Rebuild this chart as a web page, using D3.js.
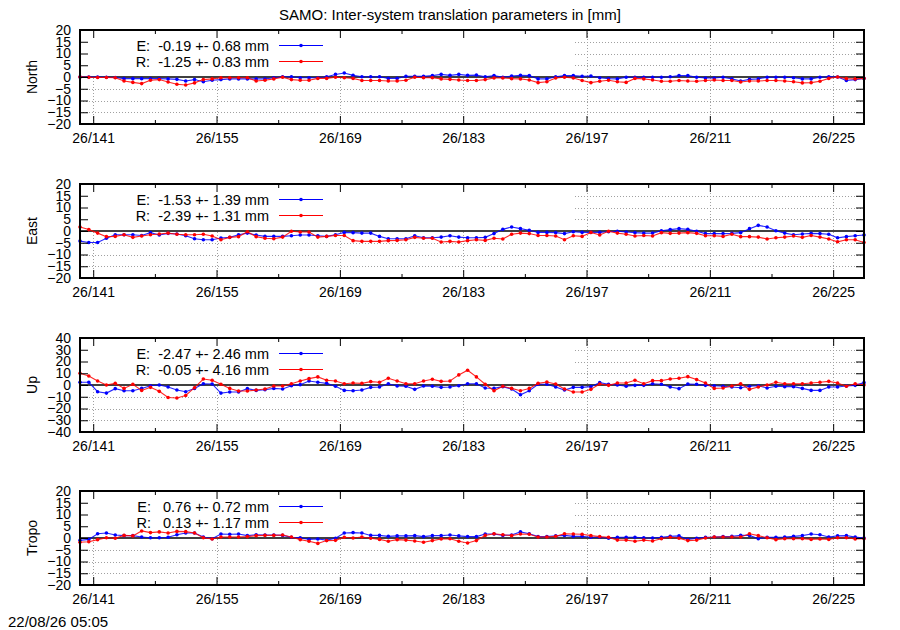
<!DOCTYPE html>
<html><head><meta charset="utf-8">
<script src="https://cdn.jsdelivr.net/npm/d3@7"></script>
<style>
html,body{margin:0;padding:0;background:#fff;}
svg{display:block;font-family:"Liberation Sans",Arial,Helvetica,sans-serif;}
</style>
</head><body>
<svg id="c" width="900" height="630"></svg>
<script>
const title = "SAMO: Inter-system translation parameters in [mm]";
const timestamp = "22/08/26 05:05";
const panelNames = ["North", "East", "Up", "Tropo"];
const yLimits = [20, 20, 40, 20];
const yTickSteps = [5, 5, 10, 5];
const xMajorDays = [141, 155, 169, 183, 197, 211, 225];
const xTickLabels = ["26/141", "26/155", "26/169", "26/183", "26/197", "26/211", "26/225"];
const xMinorDays = [148, 162, 176, 190, 204, 218];
const legendE = ["E:  -0.19 +- 0.68 mm", "E:  -1.53 +- 1.39 mm", "E:  -2.47 +- 2.46 mm", "E:   0.76 +- 0.72 mm"];
const legendR = ["R:  -1.25 +- 0.83 mm", "R:  -2.39 +- 1.31 mm", "R:  -0.05 +- 4.16 mm", "R:   0.13 +- 1.17 mm"];

const epochs = [139.5,140.5,141.5,142.5,143.5,144.5,145.5,146.5,147.5,148.5,
 149.5,150.5,151.5,152.5,153.5,154.5,155.5,156.5,157.5,158.5,
 159.5,160.5,161.5,162.5,163.5,164.5,165.5,166.5,167.5,168.5,
 169.5,170.5,171.5,172.5,173.5,174.5,175.5,176.5,177.5,178.5,
 179.5,180.5,181.5,182.5,183.5,184.5,185.5,186.5,187.5,188.5,
 189.5,190.5,191.5,192.5,193.5,194.5,195.5,196.5,197.5,198.5,
 199.5,200.5,201.5,202.5,203.5,204.5,205.5,206.5,207.5,208.5,
 209.5,210.5,211.5,212.5,213.5,214.5,215.5,216.5,217.5,218.5,
 219.5,220.5,221.5,222.5,223.5,224.5,225.5,226.5,227.5,228.5];

const northE = [0.0, 0.0, 0.0, -0.1, -0.2, -0.7, -0.7, -0.7, -0.7, -0.7,
 -0.8, -1.0, -1.7, -1.1, -2.0, -1.4, -1.1, -0.8, -0.8, -0.8,
 -0.8, -0.8, -0.3, 0.1, 0.1, -0.3, -0.3, -0.3, 0.1, 1.1,
 1.7, 0.7, 0.1, 0.1, 0.1, -0.6, -0.6, 0.3, 0.3, 0.3,
 0.6, 1.1, 0.7, 1.1, 0.7, 0.8, 0.1, 0.6, -0.1, 0.4,
 0.7, 0.6, -0.8, -0.8, 0.1, 0.6, 0.6, 0.3, 0.4, -0.3,
 -0.7, -0.8, -0.1, -0.1, -0.1, -0.1, -0.1, 0.1, 0.6, 0.6,
 -0.1, -0.4, -0.4, -0.1, -0.8, -1.7, -1.0, -0.8, -0.1, -0.1,
 -0.1, -0.3, -0.8, -0.8, -0.1, 0.1, 0.0, -1.5, -1.1, -0.6];
const northR = [0.0, -0.1, -0.2, -0.2, -0.3, -1.7, -2.3, -2.8, -1.4, -1.1,
 -2.1, -3.1, -3.4, -2.5, -1.1, -0.8, -0.3, -0.3, -0.3, -0.3,
 -1.7, -1.4, -0.8, -0.1, -1.1, -1.4, -1.4, -0.6, -0.6, -0.1,
 -0.3, -0.6, -1.5, -1.5, -1.5, -1.7, -1.7, -1.4, -0.1, -0.3,
 -0.3, -0.8, -1.0, -1.3, -1.5, -1.5, -1.1, -0.4, -0.4, -0.7,
 -0.8, -1.3, -2.4, -2.0, -0.4, -0.1, -0.4, -1.5, -2.4, -1.8,
 -1.4, -2.0, -2.3, -0.6, -0.8, -1.3, -1.8, -1.8, -1.5, -1.7,
 -1.8, -1.5, -1.3, -1.5, -1.5, -2.1, -1.7, -1.7, -1.5, -1.5,
 -1.7, -2.0, -2.5, -2.4, -1.8, -0.6, 0.0, -0.7, -0.8, -0.6];
const eastE = [-4.3, -4.9, -4.9, -3.1, -1.6, -1.6, -1.6, -1.9, -0.7, -1.7,
 -1.0, -1.3, -2.0, -3.3, -3.7, -3.7, -3.0, -2.7, -1.6, -0.9,
 -1.7, -2.3, -2.3, -2.3, -2.0, -1.7, -1.7, -2.0, -2.3, -1.6,
 -0.6, -0.7, -0.9, -0.9, -2.3, -3.3, -3.3, -3.3, -2.0, -2.9,
 -2.9, -2.6, -2.0, -2.6, -2.9, -2.9, -2.7, -1.1, 0.7, 1.7,
 1.0, 0.3, -0.6, -0.6, -0.7, -1.1, -0.3, -0.6, -0.6, -0.6,
 -0.3, -0.1, -0.4, -0.7, -0.9, -0.9, 0.1, 0.6, 1.0, 0.7,
 -0.1, -1.1, -1.1, -1.1, -1.0, -0.7, 1.0, 2.4, 1.7, 0.1,
 -0.9, -1.6, -1.3, -1.0, -1.1, -1.4, -2.9, -2.4, -2.0, -1.7];
const eastR = [1.7, 0.6, -0.9, -2.4, -2.3, -1.6, -2.7, -2.1, -1.6, -1.3,
 -0.9, -1.4, -1.6, -1.6, -1.4, -2.1, -3.7, -2.7, -2.4, -0.3,
 -2.4, -3.1, -3.3, -2.6, -0.1, -0.4, -0.4, -2.6, -2.3, -1.9,
 -1.9, -4.1, -4.4, -4.4, -4.4, -4.1, -4.0, -3.7, -2.7, -3.1,
 -3.1, -4.7, -4.4, -4.7, -4.1, -3.7, -4.0, -3.1, -3.4, -1.4,
 -0.9, -1.1, -1.9, -1.9, -2.1, -3.7, -2.0, -2.3, -0.6, -1.7,
 -0.1, -0.9, -1.4, -2.1, -1.9, -2.1, -0.7, -1.0, -0.9, -0.7,
 -1.0, -2.0, -2.0, -2.3, -1.4, -2.4, -2.4, -2.6, -3.4, -2.9,
 -2.6, -2.1, -2.7, -1.9, -2.6, -3.4, -4.6, -3.7, -3.7, -4.9];
const upE = [2.3, 2.3, -5.7, -6.9, -3.1, -4.9, -4.9, -2.9, -0.6, 0.0,
 -1.7, -4.3, -5.7, -2.9, 1.1, 0.9, -6.9, -6.0, -6.0, -3.1,
 -4.6, -4.0, -2.9, -3.4, -0.6, 0.3, 3.4, 2.3, 1.4, -1.1,
 -4.6, -4.9, -4.3, -2.0, -1.7, 1.1, -0.9, -1.1, -3.7, -0.9,
 -1.1, -2.0, -1.7, -0.6, 1.1, 1.1, -2.6, -2.9, -1.4, -3.4,
 -8.3, -4.9, 0.6, 0.6, -1.7, -4.3, -2.0, -2.0, -1.4, 2.0,
 0.6, 0.0, -1.1, -0.3, -0.3, 1.1, 0.6, -1.7, -3.1, 0.9,
 0.6, -0.3, -0.6, -1.1, -1.7, -2.3, -1.1, -0.6, -2.6, -1.1,
 -1.4, -1.4, -2.9, -4.6, -4.6, -1.7, -1.7, -0.9, -0.3, 2.0];
const upR = [10.0, 7.7, 3.4, 0.0, 1.4, -2.9, 0.6, -4.6, -2.0, -5.4,
 -10.6, -11.1, -8.9, -2.3, 5.1, 4.0, 0.6, -2.9, -5.1, -5.1,
 -4.3, -3.4, -0.9, -0.9, 1.1, 3.4, 5.4, 6.9, 4.0, 3.4,
 1.1, 1.7, 1.4, 2.9, 2.3, 5.7, 3.4, 1.1, 1.1, 3.4,
 4.9, 3.1, 3.4, 8.6, 12.6, 6.9, 0.6, -4.9, -1.1, -2.9,
 -4.9, -2.9, 1.4, 2.6, 0.9, -3.4, -6.0, -6.0, -3.7, 0.9,
 -0.3, 1.7, 1.7, 4.0, 1.1, 3.7, 3.7, 5.1, 5.7, 7.1,
 4.6, 1.7, -2.9, -2.6, -0.9, 1.1, -3.7, -1.7, 0.0, 2.3,
 1.1, 1.1, 1.1, 1.7, 2.3, 3.1, 1.7, -1.1, 1.1, 0.0];
const tropoE = [-1.0, -0.6, 1.8, 2.1, 1.3, 1.0, 1.0, 0.4, 0.1, 0.1,
 0.3, 1.4, 2.1, 2.1, 0.4, -0.3, 1.7, 1.6, 1.7, 1.0,
 1.4, 1.3, 1.3, 1.1, 0.3, 0.1, -0.6, -0.4, -0.9, -0.1,
 2.1, 2.3, 2.1, 1.1, 1.1, 0.7, 0.9, 0.9, 1.0, 0.6,
 1.0, 1.0, 1.3, 0.9, 0.6, 0.6, 1.7, 1.7, 1.1, 1.3,
 2.6, 1.8, 0.6, 0.6, 0.9, 1.1, 0.7, 0.7, 0.3, 0.3,
 -0.1, 0.3, 0.3, 0.3, 0.1, 0.0, 0.3, 0.7, 0.9, -0.6,
 -0.1, 0.3, 0.4, 0.6, 0.7, 1.1, 1.1, -0.3, 0.3, 0.3,
 0.4, 0.7, 1.0, 1.7, 1.4, 0.4, 0.9, 1.0, 0.4, 0.0];
const tropoR = [-1.8, -1.6, -0.7, 0.1, -0.1, 1.1, 0.9, 3.0, 2.3, 2.6,
 2.1, 2.8, 2.7, 2.1, 0.1, -0.4, 0.4, 0.4, 0.4, 0.6,
 1.0, 1.1, 1.1, 1.3, 0.4, -0.7, -1.4, -2.3, -1.1, -1.0,
 0.3, 0.0, 0.4, -0.1, -0.6, -1.4, -0.7, -0.9, -1.3, -1.8,
 -1.1, -0.4, -0.3, -1.4, -2.1, -1.1, 1.1, 1.8, 1.4, 1.0,
 1.7, 1.6, 0.4, 0.4, 0.7, 1.8, 1.7, 1.6, 1.0, 0.6,
 0.3, -0.9, -0.9, -1.4, -0.9, -1.3, -0.3, 0.3, -0.1, -1.1,
 -0.9, 0.0, 0.4, 0.4, 0.4, 0.4, 1.8, 1.0, 0.1, -0.7,
 -0.3, -0.3, -0.3, -0.6, -0.4, -0.6, 0.1, 0.1, -0.4, -0.3];

const seriesE = [northE, eastE, upE, tropoE];
const seriesR = [northR, eastR, upR, tropoR];

// ---- layout ----
const X0 = 80, X1 = 864;
const panelTops = [30, 184, 338, 491];
const PH = 94;
const BLUE = "#0000ff", RED = "#ff0000";
const FS = 14;

const svg = d3.select("#c");
svg.append("rect").attr("width", 900).attr("height", 630).attr("fill", "#fff");

svg.append("text").attr("x", 450).attr("y", 20).attr("text-anchor", "middle")
  .attr("font-size", 15).text(title);
svg.append("text").attr("x", 8).attr("y", 627).attr("font-size", 15).text(timestamp);

const x = d3.scaleLinear().domain(d3.extent(epochs)).range([X0, X1]);

panelNames.forEach((name, p) => {
  const top = panelTops[p], bot = top + PH;
  const lim = yLimits[p], step = yTickSteps[p];
  const y = d3.scaleLinear().domain([-lim, lim]).range([bot, top]);
  const yTicks = d3.range(-lim, lim + step / 2, step);
  const g = svg.append("g");

  // grid
  const grid = g.append("g").attr("stroke", "#a0a0a0").attr("stroke-width", 1)
    .attr("stroke-dasharray", "1,2").attr("fill", "none");
  yTicks.filter(v => v !== 0 && Math.abs(v) !== lim).forEach(v => {
    grid.append("line").attr("x1", X0).attr("x2", X1)
      .attr("y1", Math.round(y(v)) + 0.5).attr("y2", Math.round(y(v)) + 0.5);
  });
  xMajorDays.forEach(d => {
    grid.append("line").attr("x1", Math.round(x(d)) + 0.5).attr("x2", Math.round(x(d)) + 0.5)
      .attr("y1", top).attr("y2", bot);
  });

  // opaque key box
  g.append("rect").attr("x", X0 + 1).attr("y", top + 1)
    .attr("width", 573 - X0).attr("height", 45).attr("fill", "#fff");

  // zero axis
  g.append("line").attr("x1", X0).attr("x2", X1).attr("y1", y(0)).attr("y2", y(0))
    .attr("stroke", "#000").attr("stroke-width", 1.6);

  // series
  const line = d3.line().x((d, i) => x(epochs[i])).y(d => y(d));
  [[seriesE[p], BLUE], [seriesR[p], RED]].forEach(([vals, col]) => {
    g.append("path").datum(vals).attr("d", line).attr("fill", "none")
      .attr("stroke", col).attr("stroke-width", 1.1).attr("stroke-opacity", 0.85);
    g.append("g").selectAll("circle").data(vals).join("circle")
      .attr("cx", (d, i) => x(epochs[i])).attr("cy", d => y(d)).attr("r", 1.8).attr("fill", col);
  });

  // legend
  [[legendE[p], BLUE], [legendR[p], RED]].forEach(([txt, col], k) => {
    const ly = top + 15.5 + k * 16;
    g.append("text").attr("x", 269).attr("y", ly + 5).attr("text-anchor", "end")
      .attr("font-size", 14.5).style("white-space", "pre").text(txt);
    g.append("line").attr("x1", 279).attr("x2", 323).attr("y1", ly).attr("y2", ly)
      .attr("stroke", col).attr("stroke-width", 1.1);
    g.append("circle").attr("cx", 301).attr("cy", ly).attr("r", 1.8).attr("fill", col);
  });

  // axes (ticks inward)
  const styleAxis = sel => {
    sel.select(".domain").remove();
    sel.selectAll(".tick line").attr("stroke", "#000").attr("stroke-width", 1);
    sel.selectAll("text").attr("font-size", FS).attr("fill", "#000");
    sel.attr("font-family", null).attr("font-size", null);
  };
  g.append("g").attr("transform", `translate(${X0},0)`)
    .call(d3.axisLeft(y).tickValues(yTicks).tickSize(-8).tickPadding(9).tickFormat(d3.format("d")))
    .call(styleAxis);
  g.append("g").attr("transform", `translate(${X1},0)`)
    .call(d3.axisRight(y).tickValues(yTicks).tickSize(-8).tickFormat(""))
    .call(styleAxis);
  g.append("g").attr("transform", `translate(0,${bot})`)
    .call(d3.axisBottom(x).tickValues(xMajorDays).tickSize(-8).tickPadding(9)
      .tickFormat((d, i) => xTickLabels[i]))
    .call(styleAxis);
  g.append("g").attr("transform", `translate(0,${bot})`)
    .call(d3.axisBottom(x).tickValues(xMinorDays).tickSize(-4).tickFormat(""))
    .call(styleAxis);
  g.append("g").attr("transform", `translate(0,${top})`)
    .call(d3.axisTop(x).tickValues(xMajorDays).tickSize(-8).tickFormat(""))
    .call(styleAxis);
  g.append("g").attr("transform", `translate(0,${top})`)
    .call(d3.axisTop(x).tickValues(xMinorDays).tickSize(-4).tickFormat(""))
    .call(styleAxis);

  // frame
  g.append("rect").attr("x", X0).attr("y", top).attr("width", X1 - X0).attr("height", PH)
    .attr("fill", "none").attr("stroke", "#000").attr("stroke-width", 2);

  // y label
  g.append("text").attr("transform", `translate(36.5,${top + PH / 2}) rotate(-90)`)
    .attr("text-anchor", "middle").attr("font-size", FS).text(name);
});
</script>
</body></html>
